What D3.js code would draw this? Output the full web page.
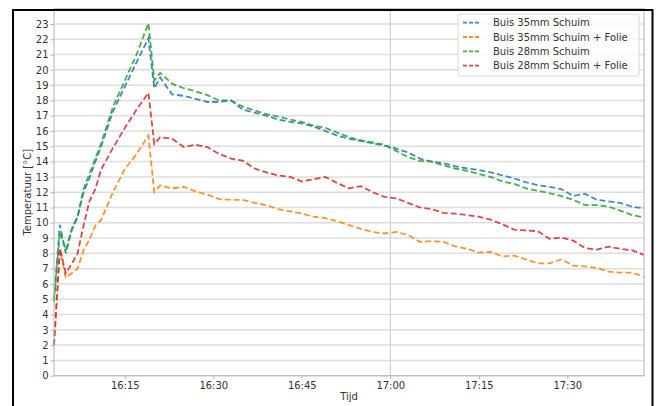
<!DOCTYPE html>
<html>
<head>
<meta charset="utf-8">
<script src="https://cdn.jsdelivr.net/npm/d3@7/dist/d3.min.js"></script>
<style>
    body { margin: 0; background: #fff; }
    text { font-family: "DejaVu Sans", sans-serif; }
</style>
</head>
<body>
<script>
            // meetmomenten (tijd) en temperaturen per buis
            var times = ["16:03","16:04","16:05","16:06","16:07","16:08","16:09","16:10","16:11","16:13",
                         "16:15","16:17","16:19","16:20","16:21","16:23","16:25","16:27","16:29","16:31",
                         "16:33","16:35","16:37","16:39","16:41","16:43","16:45","16:47","16:49","16:51",
                         "16:53","16:55","16:57","16:59","17:01","17:03","17:05","17:07","17:09","17:11",
                         "17:13","17:15","17:17","17:19","17:21","17:23","17:25","17:27","17:29","17:31",
                         "17:33","17:35","17:37","17:39","17:41","17:43"];

            var buis35Schuim = [5.0, 9.86, 8.0, 9.5, 10.4, 12.0, 12.9, 14.0, 15.0, 17.3,
                                18.9, 20.5, 22.07, 18.8, 19.5, 18.4, 18.3, 18.1, 17.9, 17.9,
                                18.0, 17.4, 17.2, 17.0, 16.75, 16.6, 16.5, 16.3, 16.0, 15.7,
                                15.5, 15.35, 15.2, 15.05, 14.85, 14.6, 14.2, 14.0, 13.9, 13.7,
                                13.55, 13.45, 13.3, 13.1, 12.9, 12.65, 12.45, 12.35, 12.2, 11.75,
                                11.9, 11.5, 11.4, 11.3, 11.05, 10.95];

            var buis35Folie = [2.0, 8.2, 6.4, 6.7, 7.0, 8.2, 8.9, 9.8, 10.2, 12.0,
                               13.5, 14.5, 15.7, 12.0, 12.45, 12.25, 12.35, 12.05, 11.85, 11.55,
                               11.5, 11.5, 11.3, 11.15, 10.9, 10.75, 10.6, 10.4, 10.3, 10.1,
                               9.85, 9.6, 9.4, 9.3, 9.4, 9.2, 8.75, 8.8, 8.75, 8.45,
                               8.3, 8.05, 8.1, 7.8, 7.85, 7.6, 7.35, 7.35, 7.6, 7.2,
                               7.15, 7.05, 6.8, 6.74, 6.74, 6.45];

            var buis28Schuim = [4.8, 9.4, 8.2, 9.6, 10.4, 12.2, 13.2, 14.2, 15.2, 17.6,
                                19.3, 21.0, 23.05, 19.3, 19.8, 19.1, 18.8, 18.6, 18.35, 18.0,
                                18.0, 17.6, 17.35, 17.1, 16.95, 16.75, 16.6, 16.35, 16.2, 15.9,
                                15.6, 15.4, 15.25, 15.1, 14.7, 14.3, 14.05, 14.0, 13.75, 13.55,
                                13.4, 13.2, 13.0, 12.7, 12.55, 12.25, 12.1, 11.93, 11.75, 11.5,
                                11.16, 11.16, 11.05, 10.8, 10.5, 10.35];

            var buis28Folie = [2.0, 8.33, 6.7, 7.3, 8.0, 9.8, 11.4, 12.2, 13.5, 14.9,
                               16.2, 17.4, 18.5, 15.15, 15.6, 15.5, 14.95, 15.1, 14.95, 14.5,
                               14.2, 14.06, 13.55, 13.3, 13.1, 13.0, 12.7, 12.85, 13.0, 12.6,
                               12.25, 12.4, 12.0, 11.7, 11.6, 11.3, 11.0, 10.9, 10.65, 10.6,
                               10.5, 10.4, 10.2, 9.9, 9.55, 9.5, 9.45, 8.95, 9.03, 8.83,
                               8.35, 8.25, 8.44, 8.3, 8.2, 7.9];

            var seriesNames = ["Buis 35mm Schuim", "Buis 35mm Schuim + Folie", "Buis 28mm Schuim", "Buis 28mm Schuim + Folie"];
            var seriesColors = ["#1f77b4", "#ff7f0e", "#2ca02c", "#d62728"];
            var xTickLabels = ["16:15", "16:30", "16:45", "17:00", "17:15", "17:30"];
            var yTicks = d3.range(0, 24);

            //Width and height
            var w = 659;
            var h = 406;

            var svg = d3.select("body")
                        .append("svg")
                        .attr("width", w)
                        .attr("height", h);

            var parseTime = d3.timeParse("%H:%M");

            var x = d3.scaleTime()
                .domain([parseTime(times[0]), parseTime(times[times.length - 1])])
                .range([54, 644]);

            var y = d3.scaleLinear()
                .domain([0, 24])
                .range([375.7, 8.7]);

            // horizontale grid
            svg.append("g")
               .selectAll("line")
               .data(yTicks)
               .enter()
               .append("line")
               .attr("x1", x.range()[0])
               .attr("x2", x.range()[1])
               .attr("y1", function(d) { return y(d); })
               .attr("y2", function(d) { return y(d); })
               .attr("stroke", "#dedede")
               .attr("stroke-width", 1.5);

            // verticale lijn op 17:00
            svg.append("line")
               .attr("x1", x(parseTime("17:00")))
               .attr("x2", x(parseTime("17:00")))
               .attr("y1", y(0))
               .attr("y2", y(24))
               .attr("stroke", "#d0d0d0")
               .attr("stroke-width", 1.2);

            var allSeries = [buis35Schuim, buis35Folie, buis28Schuim, buis28Folie];

            var line = d3.line()
                .x(function(d, i) { return x(parseTime(times[i])); })
                .y(function(d) { return y(d); });

            svg.append("g")
               .selectAll("path")
               .data(allSeries)
               .enter()
               .append("path")
               .attr("d", line)
               .attr("fill", "none")
               .attr("stroke", function(d, i) { return seriesColors[i]; })
               .attr("stroke-opacity", 0.85)
               .attr("stroke-width", 1.8)
               .attr("stroke-dasharray", "6,3");

            // spines
            svg.append("rect")
               .attr("x", x.range()[0])
               .attr("y", y(24))
               .attr("width", x.range()[1] - x.range()[0])
               .attr("height", y(0) - y(24))
               .attr("fill", "none")
               .attr("stroke", "#b5b5b5")
               .attr("stroke-width", 1);

            var xAxis = d3.axisBottom(x)
                .tickValues(xTickLabels.map(parseTime))
                .tickFormat(d3.timeFormat("%H:%M"))
                .tickSize(3.5)
                .tickPadding(2.5);

            var yAxis = d3.axisLeft(y)
                .tickValues(yTicks)
                .tickSize(3.5)
                .tickPadding(2);

            var gx = svg.append("g")
               .attr("transform", "translate(0," + y(0) + ")")
               .call(xAxis);

            var gy = svg.append("g")
               .attr("transform", "translate(" + x.range()[0] + ",0)")
               .call(yAxis);

            [gx, gy].forEach(function(g) {
                g.select(".domain").remove();
                g.selectAll(".tick line").attr("stroke", "#b5b5b5");
                g.selectAll(".tick text")
                 .attr("fill", "#333")
                 .style("font-size", "10px")
                 .style("font-family", "DejaVu Sans");
            });

            // as-titels
            svg.append("text")
               .attr("x", (x.range()[0] + x.range()[1]) / 2)
               .attr("y", 400)
               .attr("text-anchor", "middle")
               .attr("fill", "#333")
               .style("font-size", "10px")
               .text("Tijd");

            svg.append("text")
               .attr("transform", "translate(31," + ((y(0) + y(24)) / 2) + ") rotate(-90)")
               .attr("text-anchor", "middle")
               .attr("fill", "#333")
               .style("font-size", "10px")
               .text("Temperatuur [°C]");

            // legenda
            var legend = svg.append("g")
               .attr("transform", "translate(458,14)");

            legend.append("rect")
               .attr("width", 181)
               .attr("height", 62)
               .attr("rx", 2)
               .attr("fill", "#fff")
               .attr("fill-opacity", 0.8)
               .attr("stroke", "#d8d8d8")
               .attr("stroke-width", 1);

            var entries = legend.selectAll(".entry")
               .data(seriesNames)
               .enter()
               .append("g")
               .attr("class", "entry")
               .attr("transform", function(d, i) { return "translate(0," + (8.7 + i * 14.3) + ")"; });

            entries.append("line")
               .attr("x1", 5)
               .attr("x2", 21)
               .attr("stroke", function(d, i) { return seriesColors[i]; })
               .attr("stroke-opacity", 0.85)
               .attr("stroke-width", 1.8)
               .attr("stroke-dasharray", "4,2");

            entries.append("text")
               .attr("x", 35)
               .attr("dy", "0.35em")
               .attr("fill", "#333")
               .style("font-size", "10px")
               .text(function(d) { return d; });

            // zwarte rand rond de figuur
            svg.append("rect")
               .attr("x", 13)
               .attr("y", 10)
               .attr("width", 639.5)
               .attr("height", 420)
               .attr("fill", "none")
               .attr("stroke", "#000")
               .attr("stroke-width", 2);
</script>
</body>
</html>
